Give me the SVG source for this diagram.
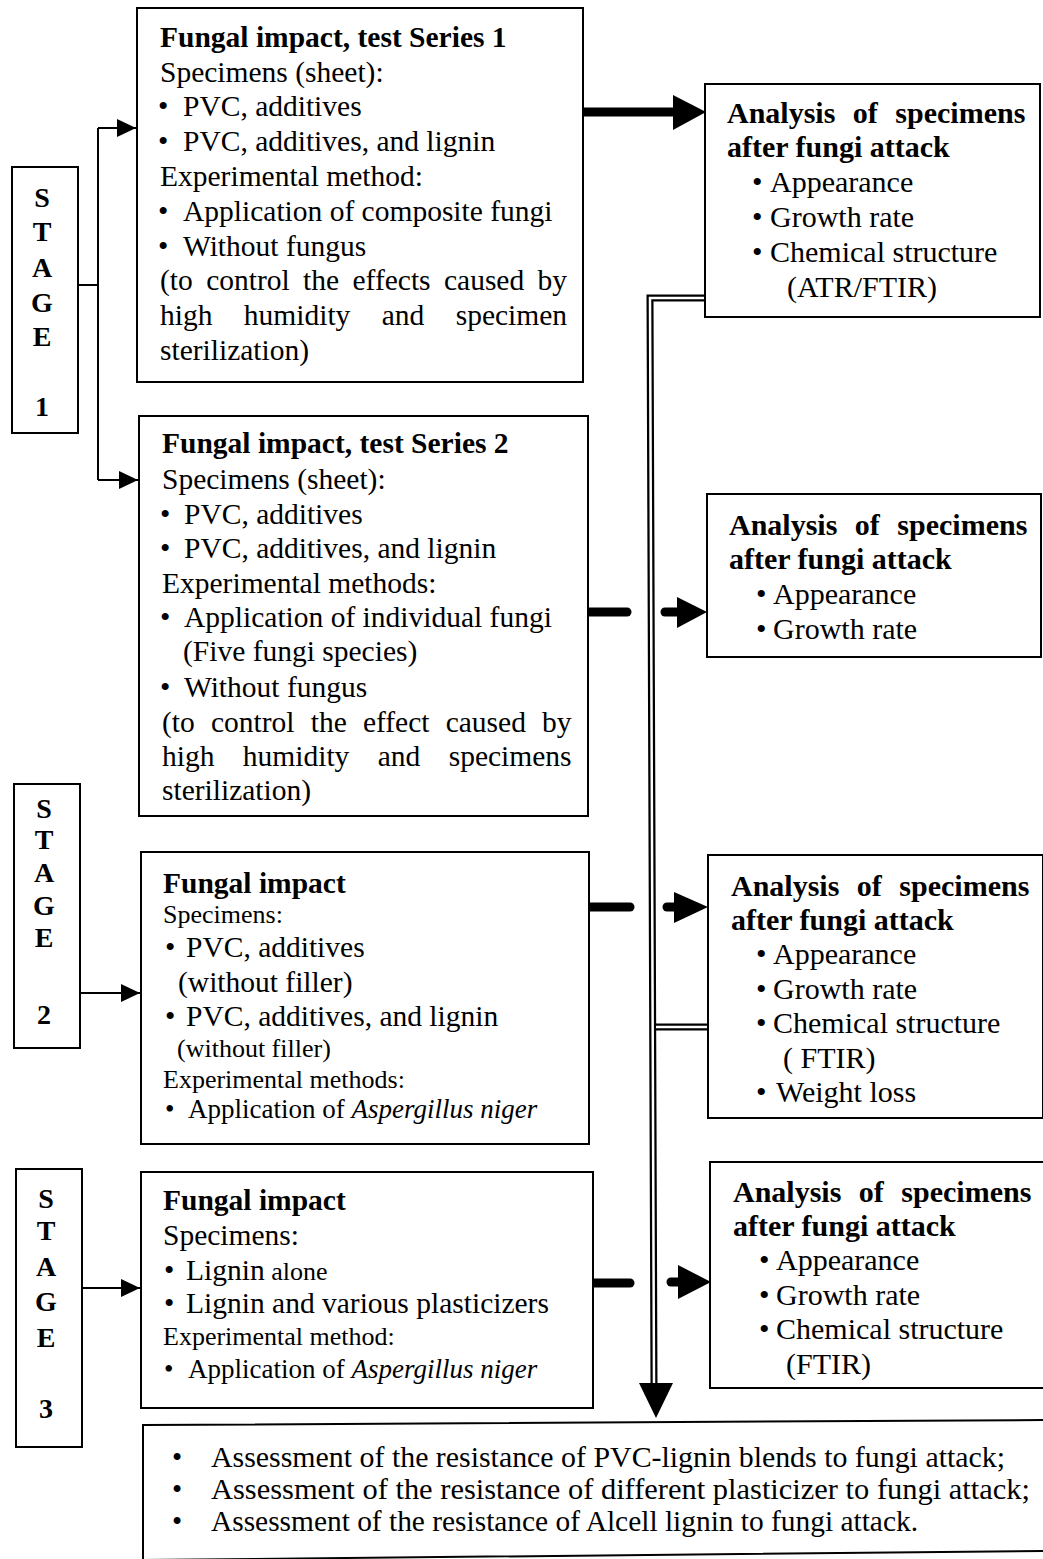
<svg xmlns="http://www.w3.org/2000/svg" width="1043" height="1559" viewBox="0 0 1043 1559">
<style>
text{font-family:"Liberation Serif","Times New Roman",serif;fill:#000}
.b{font-weight:bold;font-size:29.5px}
.ba{font-weight:bold;font-size:30px}
.t{font-size:29.5px}
.a{font-size:30px}
.s{font-size:26px}
.m{font-size:27px}
.c{font-size:29px}
.st{font-weight:bold;font-size:28px;text-anchor:middle}
.box{fill:#fff;stroke:#000;stroke-width:2}
.thin{fill:none;stroke:#000;stroke-width:2}
.thick{fill:none;stroke:#000;stroke-width:9}
.head{fill:#000}
</style>
<defs>
<marker id="ah" viewBox="0 0 19 18" refX="19" refY="9" markerWidth="19" markerHeight="18" markerUnits="userSpaceOnUse" orient="auto">
<path d="M0,0 L19,9 L0,18 Z" fill="#000"/>
</marker>
</defs>

<g id="connectors">
<path class="thin" d="M78,285 H98"/>
<path class="thin" d="M98,128 V480"/>
<path class="thin" d="M98,128 H136" marker-end="url(#ah)"/>
<path class="thin" d="M98,480 H138" marker-end="url(#ah)"/>
<path class="thin" d="M80,993 H140" marker-end="url(#ah)"/>
<path class="thin" d="M82,1288 H140" marker-end="url(#ah)"/>
<path class="thick" d="M583,112 H676"/>
<polygon class="head" points="673,95 706,112 673,130"/>
<path class="thick" stroke-linecap="round" d="M588,612 H627"/>
<path class="thick" stroke-linecap="round" d="M665,612 H680"/>
<polygon class="head" points="677,597 707,612 677,628"/>
<path class="thick" stroke-linecap="round" d="M588,907 H630"/>
<path class="thick" stroke-linecap="round" d="M667,907 H678"/>
<polygon class="head" points="674,892 708,907 674,923"/>
<path class="thick" stroke-linecap="round" d="M593,1283 H630"/>
<path class="thick" stroke-linecap="round" d="M671,1282 H682"/>
<polygon class="head" points="678,1265 711,1282 678,1299"/>
<path d="M706,298 H650 L654,1386" fill="none" stroke="#000" stroke-width="7" stroke-linejoin="miter"/>
<path d="M709,1027 H654" fill="none" stroke="#000" stroke-width="7"/>
<path d="M706,298 H650 L654,1386" fill="none" stroke="#fff" stroke-width="2.5" stroke-linejoin="miter"/>
<path d="M707,1027 H656" fill="none" stroke="#fff" stroke-width="2.5"/>
<polygon class="head" points="639,1383 673,1383 656,1418"/>
</g>

<g id="stage1">
<rect class="box" x="12" y="167" width="66" height="266"/>
<text class="st" x="42" y="207">S</text>
<text class="st" x="42" y="241">T</text>
<text class="st" x="42" y="277">A</text>
<text class="st" x="42" y="312">G</text>
<text class="st" x="42" y="346">E</text>
<text class="st" x="42" y="416">1</text>
</g>

<g id="stage2">
<rect class="box" x="14" y="784" width="66" height="264"/>
<text class="st" x="44" y="818">S</text>
<text class="st" x="44" y="849">T</text>
<text class="st" x="44" y="882">A</text>
<text class="st" x="44" y="915">G</text>
<text class="st" x="44" y="947">E</text>
<text class="st" x="44" y="1024">2</text>
</g>

<g id="stage3">
<rect class="box" x="16" y="1169" width="66" height="278"/>
<text class="st" x="46" y="1208">S</text>
<text class="st" x="46" y="1240">T</text>
<text class="st" x="46" y="1276">A</text>
<text class="st" x="46" y="1311">G</text>
<text class="st" x="46" y="1347">E</text>
<text class="st" x="46" y="1418">3</text>
</g>

<g id="series1">
<rect class="box" x="137" y="8" width="446" height="374"/>
<text class="b" x="160" y="47">Fungal impact, test Series 1</text>
<text class="t" x="160" y="82">Specimens (sheet):</text>
<text class="t" x="158" y="116">•</text><text class="t" x="183" y="116">PVC, additives</text>
<text class="t" x="158" y="151">•</text><text class="t" x="183" y="151">PVC, additives, and lignin</text>
<text class="t" x="160" y="186">Experimental method:</text>
<text class="t" x="158" y="221">•</text><text class="t" x="183" y="221">Application of composite fungi</text>
<text class="t" x="158" y="256">•</text><text class="t" x="183" y="256">Without fungus</text>
<text class="t" x="160" y="290" word-spacing="6">(to control the effects caused by</text>
<text class="t" x="160" y="325" word-spacing="24">high humidity and specimen</text>
<text class="t" x="160" y="360">sterilization)</text>
</g>

<g id="series2">
<rect class="box" x="139" y="416" width="449" height="400"/>
<text class="b" x="162" y="453">Fungal impact, test Series 2</text>
<text class="t" x="162" y="489">Specimens (sheet):</text>
<text class="t" x="160" y="524">•</text><text class="t" x="184" y="524">PVC, additives</text>
<text class="t" x="160" y="558">•</text><text class="t" x="184" y="558">PVC, additives, and lignin</text>
<text class="t" x="162" y="593">Experimental methods:</text>
<text class="t" x="160" y="627">•</text><text class="t" x="184" y="627">Application of individual fungi</text>
<text class="t" x="183" y="661">(Five fungi species)</text>
<text class="t" x="160" y="697">•</text><text class="t" x="184" y="697">Without fungus</text>
<text class="t" x="162" y="732" word-spacing="8.8">(to control the effect caused by</text>
<text class="t" x="162" y="766" word-spacing="21">high humidity and specimens</text>
<text class="t" x="162" y="800">sterilization)</text>
</g>

<g id="stage2-impact">
<rect class="box" x="141" y="852" width="448" height="292"/>
<text class="b" x="163" y="893">Fungal impact</text>
<text class="s" x="163" y="923">Specimens:</text>
<text class="t" x="165" y="957">•</text><text class="t" x="186" y="957">PVC, additives</text>
<text class="t" x="178" y="992">(without filler)</text>
<text class="t" x="165" y="1026">•</text><text class="t" x="186" y="1026">PVC, additives, and lignin</text>
<text class="s" x="177" y="1057">(without filler)</text>
<text class="s" x="163" y="1088">Experimental methods:</text>
<text class="m" x="165" y="1118">•</text><text class="m" x="188" y="1118">Application of <tspan font-style="italic">Aspergillus niger</tspan></text>
</g>

<g id="stage3-impact">
<rect class="box" x="141" y="1172" width="452" height="236"/>
<text class="b" x="163" y="1210">Fungal impact</text>
<text class="t" x="163" y="1245">Specimens:</text>
<text class="t" x="164" y="1280">•</text><text class="t" x="186" y="1280">Lignin<tspan font-size="26px"> alone</tspan></text>
<text class="t" x="164" y="1313">•</text><text class="t" x="186" y="1313">Lignin and various plasticizers</text>
<text class="s" x="163" y="1345">Experimental method:</text>
<text class="m" x="164" y="1378">•</text><text class="m" x="188" y="1378">Application of <tspan font-style="italic">Aspergillus niger</tspan></text>
</g>

<g id="analysis1">
<rect class="box" x="705" y="84" width="335" height="233"/>
<text class="ba" x="727" y="123" word-spacing="10">Analysis of specimens</text>
<text class="ba" x="727" y="157">after fungi attack</text>
<text class="a" x="752" y="192">•</text><text class="a" x="770" y="192">Appearance</text>
<text class="a" x="752" y="227">•</text><text class="a" x="770" y="227">Growth rate</text>
<text class="a" x="752" y="262">•</text><text class="a" x="770" y="262">Chemical structure</text>
<text class="a" x="787" y="297">(ATR/FTIR)</text>
</g>

<g id="analysis2">
<rect class="box" x="707" y="494" width="334" height="163"/>
<text class="ba" x="729" y="535" word-spacing="10">Analysis of specimens</text>
<text class="ba" x="729" y="569">after fungi attack</text>
<text class="a" x="756" y="604">•</text><text class="a" x="773" y="604">Appearance</text>
<text class="a" x="756" y="639">•</text><text class="a" x="773" y="639">Growth rate</text>
</g>

<g id="analysis3">
<rect class="box" x="708" y="855" width="335" height="263"/>
<text class="ba" x="731" y="896" word-spacing="10">Analysis of specimens</text>
<text class="ba" x="731" y="930">after fungi attack</text>
<text class="a" x="756" y="964">•</text><text class="a" x="773" y="964">Appearance</text>
<text class="a" x="756" y="999">•</text><text class="a" x="773" y="999">Growth rate</text>
<text class="a" x="756" y="1033">•</text><text class="a" x="773" y="1033">Chemical structure</text>
<text class="a" x="783" y="1068">( FTIR)</text>
<text class="a" x="756" y="1102">•</text><text class="a" x="776" y="1102">Weight loss</text>
</g>

<g id="analysis4">
<rect class="box" x="710" y="1162" width="336" height="226"/>
<text class="ba" x="733" y="1202" word-spacing="10">Analysis of specimens</text>
<text class="ba" x="733" y="1236">after fungi attack</text>
<text class="a" x="759" y="1270">•</text><text class="a" x="776" y="1270">Appearance</text>
<text class="a" x="759" y="1305">•</text><text class="a" x="776" y="1305">Growth rate</text>
<text class="a" x="759" y="1339">•</text><text class="a" x="776" y="1339">Chemical structure</text>
<text class="a" x="786" y="1374">(FTIR)</text>
</g>

<g id="conclusions">
<polygon class="box" points="143,1425 1050,1420 1050,1551 143,1560"/>
<text class="c" x="172" y="1467">•</text>
<text class="c" x="211" y="1467" textLength="794" lengthAdjust="spacingAndGlyphs">Assessment of the resistance of PVC-lignin blends to fungi attack;</text>
<text class="c" x="172" y="1499">•</text>
<text class="c" x="211" y="1499" textLength="819" lengthAdjust="spacingAndGlyphs">Assessment of the resistance of different plasticizer to fungi attack;</text>
<text class="c" x="172" y="1531">•</text>
<text class="c" x="211" y="1531" textLength="707" lengthAdjust="spacingAndGlyphs">Assessment of the resistance of Alcell lignin to fungi attack.</text>
</g>
</svg>
